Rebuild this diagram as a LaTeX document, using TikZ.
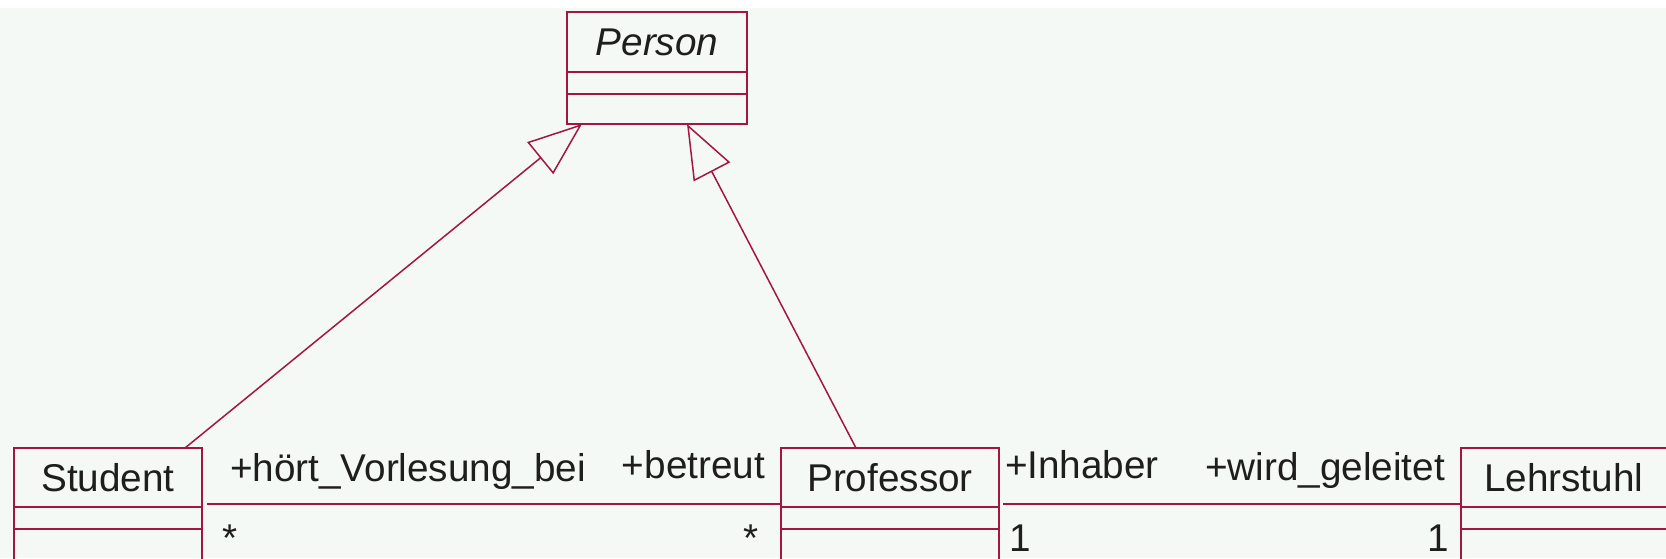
\documentclass[tikz,border=0pt]{standalone}
\usepackage{fontspec}
\newfontfamily\umlfont{Liberation Sans}
\usetikzlibrary{arrows.meta,positioning}
\definecolor{umlline}{RGB}{163,22,66}
\definecolor{umlbg}{HTML}{F4F9F6}
\definecolor{umltext}{HTML}{1E1E1E}
\begin{document}
\begin{tikzpicture}[x=0.5pt,y=-0.5pt,
  every node/.style={font={\umlfont\fontsize{19.35pt}{23pt}\selectfont}, text=umltext, inner sep=0pt, outer sep=0pt},
  classname/.style={draw=umlline, line width=1pt, minimum height=29.5pt},
  compart/.style={draw=umlline, line width=1pt, minimum height=11pt},
  opspart/.style={draw=umlline, line width=1pt, minimum height=20pt},
  gen/.style={draw=umlline, line width=0.75pt, -{Triangle[open, length=27pt, width=20.5pt]}},
  assoc/.style={draw=umlline, line width=1pt},
  role/.style={anchor=base west},
  roleend/.style={anchor=base east},
]
% canvas
\useasboundingbox (0,0) rectangle (1666,558);
\clip (0,0) rectangle (1666,558);
\fill[white] (0,0) rectangle (1666,558);
\fill[umlbg] (0,8) rectangle (1666,558);

% abstract superclass
\node[classname, minimum width=90pt, minimum height=30pt] (personname) at (657,42) {\itshape Person};
\node[compart, minimum width=90pt, below=0pt of personname] (personattr) {};
\node[draw=umlline, line width=1pt, minimum width=90pt, minimum height=15pt, below=0pt of personattr] (personops) {};

% Student
\node[classname, minimum width=94pt] (studentname) at (108,477.5) {Student};
\node[compart, minimum width=94pt, below=0pt of studentname] (studentattr) {};
\node[opspart, minimum width=94pt, below=0pt of studentattr] (studentops) {};

% Professor
\node[classname, minimum width=109pt] (profname) at (890,477.5) {Professor};
\node[compart, minimum width=109pt, below=0pt of profname] (profattr) {};
\node[opspart, minimum width=109pt, below=0pt of profattr] (profops) {};

% Lehrstuhl
\node[classname, anchor=west, inner xsep=11.5pt, text width=114.5pt, align=left] (lehrname) at (1461,477.5) {Lehrstuhl};
\node[compart, minimum width=137.5pt, below=0pt of lehrname] (lehrattr) {};
\node[opspart, minimum width=137.5pt, below=0pt of lehrattr] (lehrops) {};

% generalisations
\draw[gen] ([xshift=-8.5pt]studentname.north east) -- ([xshift=7.5pt]personops.south west);
\draw[gen] ([xshift=37.5pt]profname.north west) -- ([xshift=60pt]personops.south west);

% associations
\draw[assoc] ([xshift=2.5pt,yshift=-13.25pt]studentname.east) -- ([yshift=-13.25pt]profname.west);
\draw[assoc] ([xshift=2pt,yshift=-13.25pt]profname.east) -- ([yshift=-13.25pt]lehrname.west);

% role names
\node[role] (rhoert) at (230,481) {+hört\_Vorlesung\_bei};
\node[roleend] (rbetreut) at (765,478) {+betreut};
\node[role] (rinhaber) at (1005,478) {+Inhaber};
\node[roleend] (rgeleitet) at (1445,480) {+wird\_geleitet};

% multiplicities
\node[role] (mstud) at (222,551) {*};
\node[role] (mprof) at (743,551) {*};
\node[role] (mprofl) at (1009,551) {1};
\node[role] (mlehr) at (1427,551) {1};
\end{tikzpicture}
\end{document}
